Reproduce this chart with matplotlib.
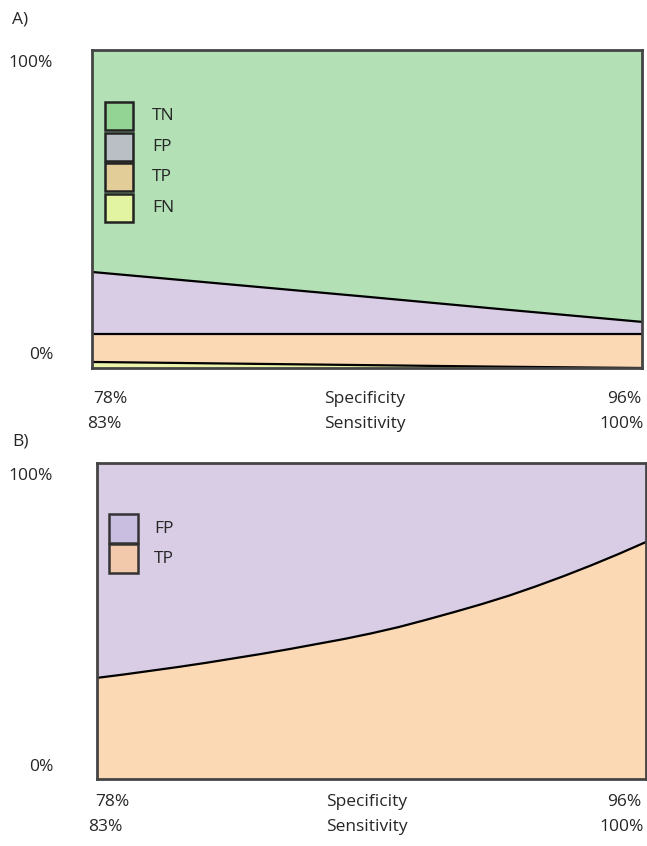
import numpy as np
import matplotlib.pyplot as plt
from matplotlib.patches import Rectangle

plt.rcParams['font.family'] = ['Open Sans', 'DejaVu Sans']

# position along the threshold sweep (0 = left edge, 1 = right edge)
pos_a = [0.0, 0.25, 0.5, 0.75, 1.0]
# panel A: share of all cases (%)
fn_a = [1.9, 1.4, 0.9, 0.4, 0.0]
tp_a = [8.9, 9.4, 9.9, 10.4, 10.8]
fp_a = [19.4, 15.5, 11.6, 7.6, 3.7]
tn_a = [69.8, 73.7, 77.6, 81.6, 85.5]

# panel B: share of positive calls (%)
pos_b = [0.0, 0.05, 0.1, 0.15, 0.2, 0.25, 0.3, 0.35, 0.4, 0.45, 0.5,
         0.55, 0.6, 0.65, 0.7, 0.75, 0.8, 0.85, 0.9, 0.95, 1.0]
tp_b = [32.0, 33.1, 34.3, 35.5, 36.8, 38.2, 39.6, 41.1, 42.7, 44.3, 46.1,
        48.1, 50.4, 52.8, 55.3, 58.0, 61.0, 64.2, 67.6, 71.2, 75.0]
fp_b = [100 - v for v in tp_b]

spec_labels = ['78%', 'Specificity', '96%']
sens_labels = ['83%', 'Sensitivity', '100%']

c_tn, c_fp, c_tp, c_fn = '#b3e0b5', '#d9cde5', '#fcd9b5', '#ecf3ab'
leg_a = [('TN', '#93d393'), ('FP', '#b9bfc5'), ('TP', '#e2cc98'), ('FN', '#e2f4a2')]
leg_b = [('FP', '#c9bde0'), ('TP', '#f2c9ab')]

W, H = 647, 846
fig = plt.figure(figsize=(W / 100, H / 100), dpi=100)


def fx(px):
    return px / W


def fy(py):
    return 1 - py / H


def setup(ax):
    ax.set_xlim(0, 1)
    ax.set_ylim(0, 100)
    ax.set_xticks([])
    ax.set_yticks([])
    for s in ax.spines.values():
        s.set_color('#444444')
        s.set_linewidth(2)


fs = 12.5
tc = '#262626'

# ---- panel A
axA = fig.add_axes([fx(92), fy(368), fx(550), 318 / H])
axA.stackplot(pos_a, fn_a, tp_a, fp_a, tn_a, colors=[c_fn, c_tp, c_fp, c_tn], lw=0)
cum = np.cumsum([fn_a, tp_a, fp_a], axis=0)
for row in cum:
    axA.plot(pos_a, row, color='black', lw=1.6)
setup(axA)
for i, (lab, col) in enumerate(leg_a):
    y0 = 0.836 - (i + 1) * 0.088 - i * 0.008
    axA.add_patch(Rectangle((0.0236, y0), 0.051, 0.088, transform=axA.transAxes,
                            facecolor=col, edgecolor='#222222', lw=1.8, zorder=5))
    axA.text((152 - 92) / 550, y0 + 0.044, lab, transform=axA.transAxes,
             va='center', ha='left', fontsize=fs, color=tc, zorder=6)

fig.text(fx(12), fy(20), 'A)', fontsize=fs, va='center', ha='left', color=tc)
fig.text(fx(53), fy(63), '100%', fontsize=fs, va='center', ha='right', color=tc)
fig.text(fx(53), fy(355), '0%', fontsize=fs, va='center', ha='right', color=tc)

# ---- panel B
axB = fig.add_axes([fx(97), fy(779), fx(549), 316 / H])
axB.stackplot(pos_b, tp_b, fp_b, colors=[c_tp, c_fp], lw=0)
axB.plot(pos_b, tp_b, color='black', lw=1.6)
setup(axB)
for i, (lab, col) in enumerate(leg_b):
    y0 = 0.838 - (i + 1) * 0.092 - i * 0.003
    axB.add_patch(Rectangle((0.0219, y0), 0.053, 0.092, transform=axB.transAxes,
                            facecolor=col, edgecolor='#333333', lw=1.8, zorder=5))
    axB.text((154 - 97) / 549, y0 + 0.046, lab, transform=axB.transAxes,
             va='center', ha='left', fontsize=fs, color=tc, zorder=6)

fig.text(fx(12), fy(441), 'B)', fontsize=fs, va='center', ha='left', color=tc)
fig.text(fx(53), fy(476), '100%', fontsize=fs, va='center', ha='right', color=tc)
fig.text(fx(53), fy(767), '0%', fontsize=fs, va='center', ha='right', color=tc)

# ---- x labels under both panels
rows = [(399, 424, 110, 104, 365), (802, 827, 112, 105, 367)]
for y1, y2, xl1, xl2, xc in rows:
    xs1 = [(xl1, 'center'), (xc, 'center'), (641, 'right')]
    for (x, ha), t in zip(xs1, spec_labels):
        fig.text(fx(x), fy(y1), t, fontsize=fs, va='center', ha=ha, color=tc)
    xs2 = [(xl2, 'center'), (xc, 'center'), (644, 'right')]
    for (x, ha), t in zip(xs2, sens_labels):
        fig.text(fx(x), fy(y2), t, fontsize=fs, va='center', ha=ha, color=tc)

fig.savefig('out.png', dpi=100)
